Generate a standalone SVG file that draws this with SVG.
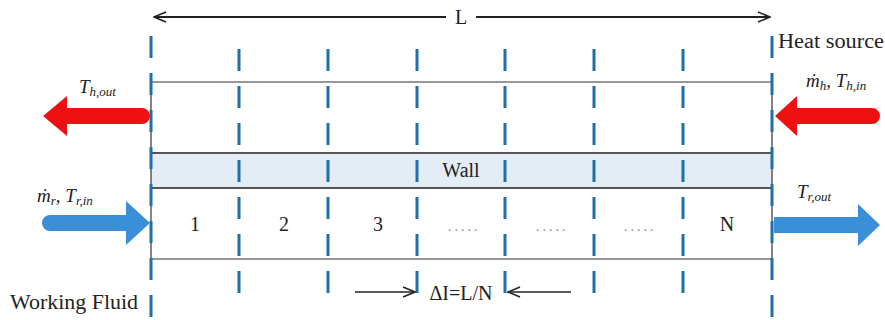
<svg xmlns="http://www.w3.org/2000/svg" width="885" height="320" viewBox="0 0 885 320">
<style>
text{font-family:"Liberation Serif","Times New Roman","DejaVu Serif",serif}
.t{font-size:20px;fill:#222}
.i{font-style:italic;font-size:19px;fill:#222}
.s{font-size:13px}
.dash{stroke:#1f6fa8;stroke-width:3;stroke-dasharray:22 15;fill:none}
.ln{stroke:#333;stroke-width:1.2;fill:none}
.dots{font-size:14px;fill:#888;letter-spacing:3px}
</style>
<defs>
<marker id="oa" viewBox="0 0 14 12" refX="13" refY="6" markerWidth="14" markerHeight="12" markerUnits="userSpaceOnUse" orient="auto">
<path d="M1,1 L13,6 L1,11" fill="none" stroke="#222" stroke-width="1.6"/>
</marker>
</defs>
<rect width="885" height="320" fill="#fff"/>
<g id="wall">
<rect x="151" y="153" width="621" height="35" fill="#e4ecf6"/>
<line x1="151" y1="153" x2="772" y2="153" stroke="#555" stroke-width="2"/>
<line x1="151" y1="188" x2="772" y2="188" stroke="#555" stroke-width="2"/>
<text class="t" x="461" y="177" text-anchor="middle">Wall</text>
</g>
<g id="channel">
<line class="ln" x1="151" y1="82" x2="772" y2="82"/>
<line class="ln" x1="151" y1="259" x2="772" y2="259"/>
<line class="ln" x1="151" y1="82" x2="151" y2="259"/>
<line class="ln" x1="772" y1="82" x2="772" y2="259"/>
</g>
<g id="dividers">
<line class="dash" x1="151" y1="36" x2="151" y2="320"/>
<line class="dash" x1="239" y1="49" x2="239" y2="294"/>
<line class="dash" x1="328" y1="49" x2="328" y2="294"/>
<line class="dash" x1="417" y1="49" x2="417" y2="294"/>
<line class="dash" x1="505" y1="49" x2="505" y2="294"/>
<line class="dash" x1="594" y1="49" x2="594" y2="294"/>
<line class="dash" x1="683" y1="49" x2="683" y2="294"/>
<line class="dash" x1="772" y1="36" x2="772" y2="320"/>
</g>
<g id="cells">
<text class="t" x="195" y="231" text-anchor="middle">1</text>
<text class="t" x="284" y="231" text-anchor="middle">2</text>
<text class="t" x="378" y="231" text-anchor="middle">3</text>
<text class="dots" x="448" y="231">.....</text>
<text class="dots" x="536" y="231">.....</text>
<text class="dots" x="624" y="231">.....</text>
<text class="t" x="727" y="231" text-anchor="middle">N</text>
</g>
<g id="connectors">
<line x1="446" y1="17" x2="154" y2="17" stroke="#222" stroke-width="2" marker-end="url(#oa)"/>
<line x1="476" y1="17" x2="770" y2="17" stroke="#222" stroke-width="2" marker-end="url(#oa)"/>
<line x1="355" y1="292" x2="415" y2="292" stroke="#222" stroke-width="1.6" marker-end="url(#oa)"/>
<line x1="571" y1="292" x2="508" y2="292" stroke="#222" stroke-width="1.6" marker-end="url(#oa)"/>
</g>
<g id="labels">
<text class="t" x="461" y="24" text-anchor="middle">L</text>
<text class="t" x="778" y="48" textLength="106" lengthAdjust="spacingAndGlyphs">Heat source</text>
<text class="t" x="10" y="309" textLength="128" lengthAdjust="spacingAndGlyphs">Working Fluid</text>
<text class="t" x="461" y="300" text-anchor="middle">ΔI=L/N</text>
</g>
<g id="hot-out">
<path d="M43,116 L67,96 L67,108 L142,108 A8,8 0 0 1 142,124 L67,124 L67,136 Z" fill="#ee1111"/>
<text class="i" x="79" y="93">T<tspan class="s" dy="3">h,out</tspan></text>
</g>
<g id="hot-in">
<path d="M775,116 L797,96 L797,108 L872,108 A8,8 0 0 1 872,124 L797,124 L797,136 Z" fill="#ee1111"/>
<text class="i" x="806" y="87">ṁ<tspan class="s" dy="3">h</tspan><tspan dy="-3">, T</tspan><tspan class="s" dy="3">h,in</tspan></text>
</g>
<g id="fluid-in">
<path d="M150,223 L126,201 L126,215 L50,215 A8,8 0 0 0 50,231 L126,231 L126,245 Z" fill="#3a8fd6"/>
<text class="i" x="37" y="202">ṁ<tspan class="s" dy="3">r</tspan><tspan dy="-3">, T</tspan><tspan class="s" dy="3">r,in</tspan></text>
</g>
<g id="fluid-out">
<path d="M880,225 L858,204 L858,217 L774,217 L774,233 L858,233 L858,246 Z" fill="#3a8fd6"/>
<text class="i" x="797" y="198">T<tspan class="s" dy="3">r,out</tspan></text>
</g>
</svg>
